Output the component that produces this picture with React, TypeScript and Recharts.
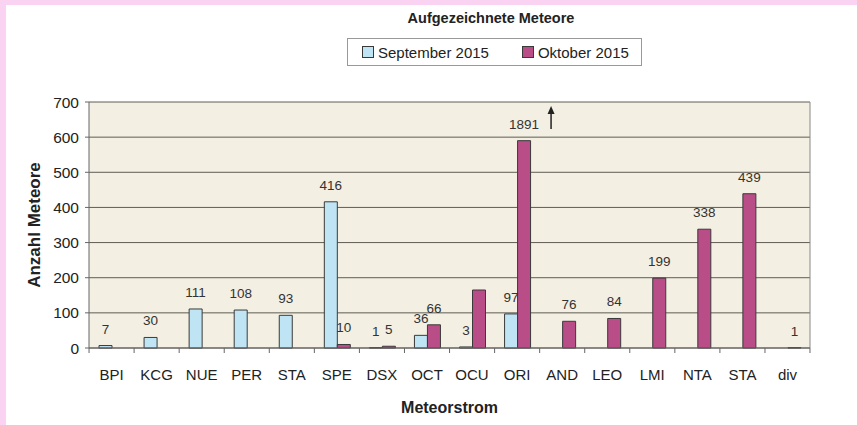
import React from 'react';
import { BarChart, Bar, XAxis, YAxis, CartesianGrid, LabelList } from 'recharts';

const streams = ['BPI', 'KCG', 'NUE', 'PER', 'STA', 'SPE', 'DSX', 'OCT', 'OCU', 'ORI', 'AND', 'LEO', 'LMI', 'NTA', 'STA', 'div'];
const september = [7, 30, 111, 108, 93, 416, 1, 36, 3, 97, 0, 0, 0, 0, 0, 0];
const oktober = [0, 0, 0, 0, 0, 10, 5, 66, 165, 1891, 76, 84, 199, 338, 439, 1];
// Balken ohne Beschriftung im Original
const hiddenOktLabels = ['OCU'];
const yTicks = [0, 100, 200, 300, 400, 500, 600, 700];
const yCap = 590; // ORI geht über die Achse hinaus

const data = streams.map((name, i) => ({
  key: `${name}-${i}`,
  name,
  sep: september[i],
  okt: Math.min(oktober[i], yCap),
  oktLabel: hiddenOktLabels.includes(name) || oktober[i] === 0 ? '' : String(oktober[i]),
  sepLabel: september[i] === 0 ? '' : String(september[i]),
}));

const FONT = '"Liberation Sans", Arial, sans-serif';
const BLUE = '#bfe5f5';
const MAGENTA = '#b84d88';
const STROKE = '#3a3a3a';

const XTick = (props: any) => {
  const { x, y, payload, index } = props;
  const half = 22.5;
  return (
    <g>
      <line x1={x - half} y1={y - 8} x2={x - half} y2={y - 3} stroke="#666" />
      {index === streams.length - 1 && (
        <line x1={x + half} y1={y - 8} x2={x + half} y2={y - 3} stroke="#666" />
      )}
      <text x={x} y={y + 24} textAnchor="middle" fontSize={15} fill="#222" fontFamily={FONT}>
        {String(payload.value).split('-')[0]}
      </text>
    </g>
  );
};

const OktLabel = (props: any) => {
  const { x, y, width, value } = props;
  if (!value) return null;
  const cx = x + width / 2;
  const over = Number(value) > yCap;
  return (
    <g>
      <text x={cx} y={y - 12} textAnchor="middle" fontSize={13.5} fill="#333" fontFamily={FONT}>
        {value}
      </text>
      {over && (
        <g>
          <line x1={cx + 27} y1={129} x2={cx + 27} y2={112} stroke="#222" strokeWidth={1.5} />
          <polygon points={`${cx + 27},106 ${cx + 23.5},114 ${cx + 30.5},114`} fill="#222" />
        </g>
      )}
    </g>
  );
};

const SepLabel = (props: any) => {
  const { x, y, width, value } = props;
  if (!value) return null;
  return (
    <text x={x + width / 2} y={y - 12} textAnchor="middle" fontSize={13.5} fill="#333" fontFamily={FONT}>
      {value}
    </text>
  );
};

const LegendBox = () => (
  <div
    style={{
      position: 'absolute',
      left: 347,
      top: 38,
      width: 293,
      height: 26,
      border: '1px solid #999',
      background: '#fff',
      display: 'flex',
      alignItems: 'center',
      fontFamily: FONT,
      fontSize: 15,
      color: '#222',
    }}
  >
    <span style={{ width: 10, height: 10, background: BLUE, border: `1px solid ${STROKE}`, marginLeft: 14, marginRight: 4 }} />
    <span>September 2015</span>
    <span style={{ width: 10, height: 10, background: MAGENTA, border: `1px solid ${STROKE}`, marginLeft: 33, marginRight: 4 }} />
    <span>Oktober 2015</span>
  </div>
);

export default function App() {
  return (
    <div style={{ position: 'absolute', left: 0, top: 0, width: 857, height: 425, background: '#f9d3f1' }}>
      <div style={{ position: 'absolute', left: 6, top: 5, right: 0, bottom: 0, background: '#fff' }} />
      <div
        style={{
          position: 'absolute',
          left: 0,
          top: 10,
          width: 982,
          textAlign: 'center',
          fontFamily: FONT,
          fontWeight: 'bold',
          fontSize: 14.5,
          color: '#222',
        }}
      >
        Aufgezeichnete Meteore
      </div>
      <LegendBox />
      <div style={{ position: 'absolute', left: 0, top: 0 }}>
        <BarChart
          width={857}
          height={425}
          data={data}
          margin={{ top: 102, right: 47, bottom: 0, left: 0 }}
          barSize={13}
          barGap={0}
        >
          <CartesianGrid vertical={false} stroke="#5f5c55" strokeWidth={1} fill="#f3efe2" fillOpacity={1} />
          <XAxis
            dataKey="key"
            height={77}
            interval={0}
            tickLine={false}
            axisLine={{ stroke: '#666' }}
            tick={<XTick />}
            label={{ value: 'Meteorstrom', position: 'insideBottom', offset: 12, fontSize: 16, fontWeight: 'bold', fill: '#222', fontFamily: FONT }}
          />
          <YAxis
            width={89}
            domain={[0, 700]}
            ticks={yTicks}
            interval={0}
            tickSize={4}
            tickMargin={6}
            axisLine={{ stroke: '#666' }}
            tickLine={{ stroke: '#666' }}
            tick={{ fontSize: 15.5, fill: '#222', fontFamily: FONT }}
            label={{
              value: 'Anzahl Meteore',
              angle: -90,
              position: 'insideLeft',
              dx: 29,
              fontSize: 17,
              fontWeight: 'bold',
              fill: '#222',
              fontFamily: FONT,
              style: { textAnchor: 'middle' },
            }}
          />
          <line x1={810} y1={102} x2={810} y2={348} stroke="#888" />
          <Bar dataKey="sep" name="September 2015" fill={BLUE} stroke={STROKE} strokeWidth={1} isAnimationActive={false}>
            <LabelList dataKey="sepLabel" content={<SepLabel />} />
          </Bar>
          <Bar dataKey="okt" name="Oktober 2015" fill={MAGENTA} stroke={STROKE} strokeWidth={1} isAnimationActive={false}>
            <LabelList dataKey="oktLabel" content={<OktLabel />} />
          </Bar>
        </BarChart>
      </div>
    </div>
  );
}
